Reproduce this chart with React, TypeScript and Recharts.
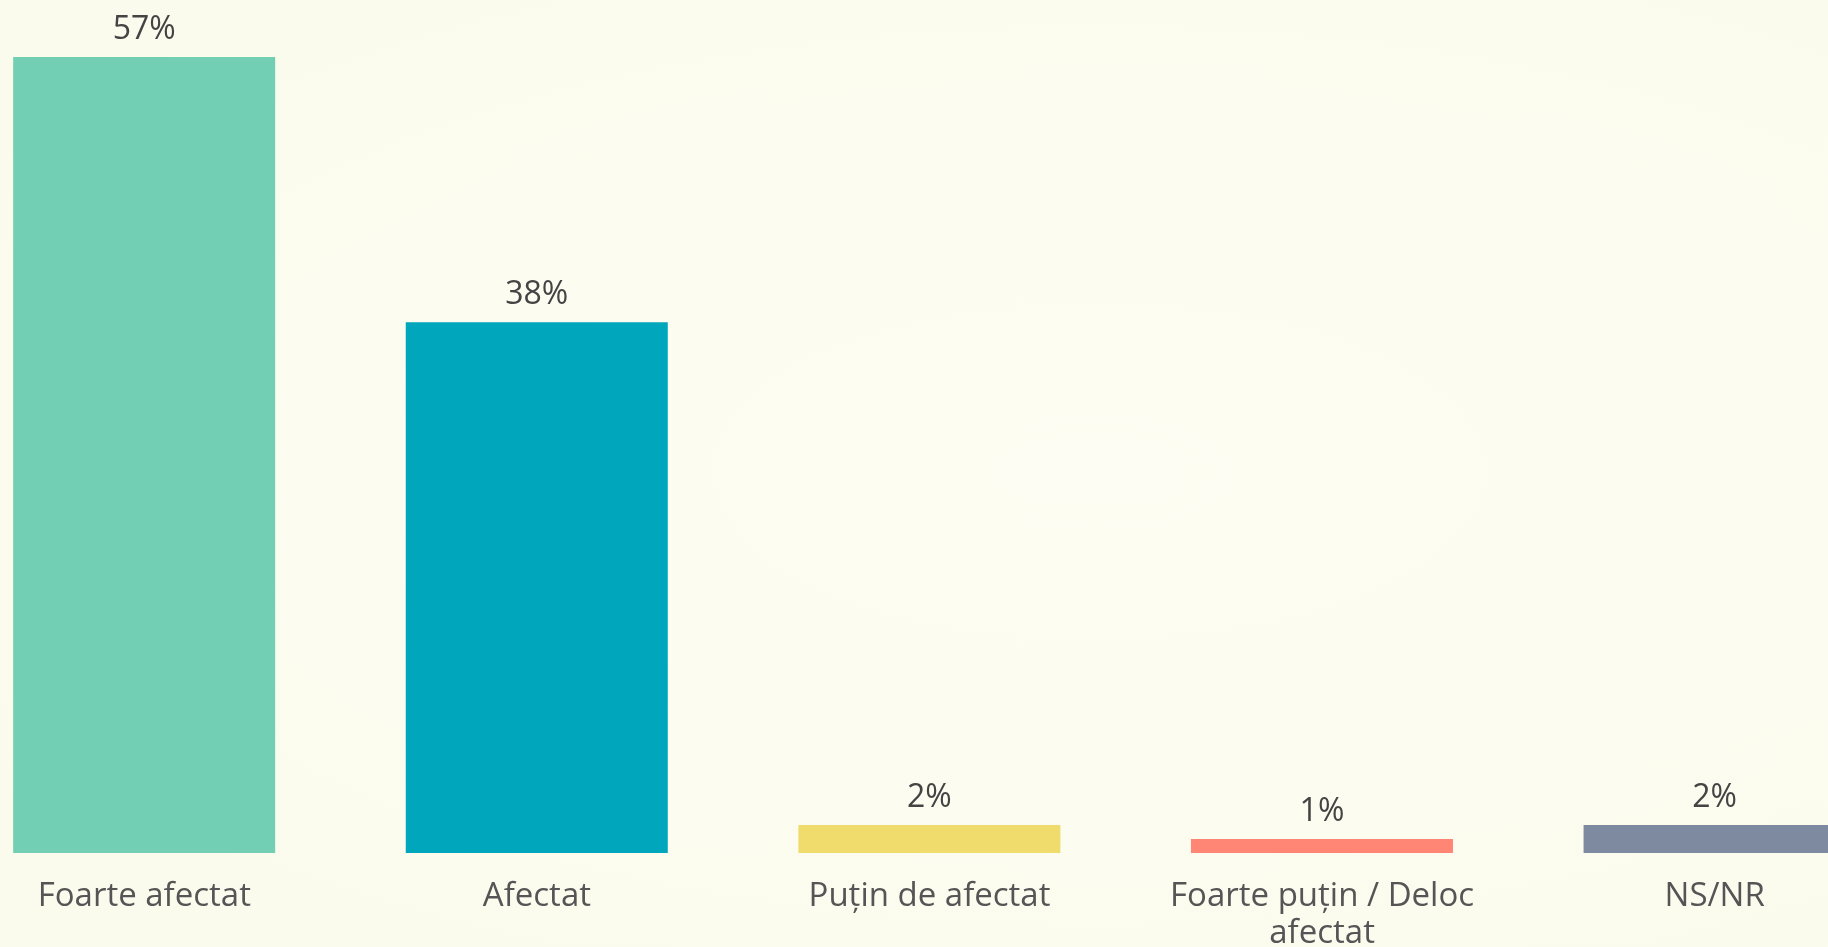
import { BarChart, Bar, XAxis, YAxis, Cell, LabelList } from "recharts";

const categories = [
  "Foarte afectat",
  "Afectat",
  "Puțin de afectat",
  "Foarte puțin / Deloc afectat",
  "NS/NR",
];
const values = [57, 38, 2, 1, 2];
const colors = ["#72CFB3", "#00A6BB", "#F0DC6C", "#FF8674", "#7E8A9F"];

const data = categories.map((name, i) => ({ name, value: values[i] }));

const FONT = "'Open Sans', sans-serif";

const CategoryTick = ({ x, y, payload }: any) => {
  const text: string = payload.value;
  // wrap long labels onto two lines
  const cut = text.lastIndexOf(" ");
  const lines = text.length > 18 ? [text.slice(0, cut), text.slice(cut + 1)] : [text];
  return (
    <text
      x={x}
      y={y + 45}
      textAnchor="middle"
      fill="#555555"
      fontSize={33}
      fontFamily={FONT}
    >
      {lines.map((line, i) => (
        <tspan key={i} x={x} dy={i === 0 ? 0 : 37}>
          {line}
        </tspan>
      ))}
    </text>
  );
};

export default function App() {
  return (
    <div
      style={{
        position: "fixed",
        left: 0,
        top: 0,
        width: 1828,
        height: 947,
        overflow: "hidden",
        background:
          "radial-gradient(ellipse at 60% 50%, #FDFDF3 0%, #FCFCF0 45%, #FAFBEC 100%)",
      }}
    >
      <div style={{ marginLeft: -52 }}>
        <BarChart
          width={1963}
          height={947}
          data={data}
          margin={{ top: 57, right: 0, bottom: 64, left: 0 }}
          barCategoryGap="16.6%"
        >
          <XAxis
            dataKey="name"
            axisLine={false}
            tickLine={false}
            interval={0}
            height={30}
            tick={<CategoryTick />}
          />
          <YAxis hide domain={[0, 57]} />
          <Bar dataKey="value" isAnimationActive={false}>
            {data.map((_, i) => (
              <Cell key={`cell-${i}`} fill={colors[i]} />
            ))}
            <LabelList
              dataKey="value"
              position="top"
              offset={18}
              formatter={(v: any) => `${v}%`}
              fill="#444444"
              fontSize={32}
              fontFamily={FONT}
            />
          </Bar>
        </BarChart>
      </div>
    </div>
  );
}
